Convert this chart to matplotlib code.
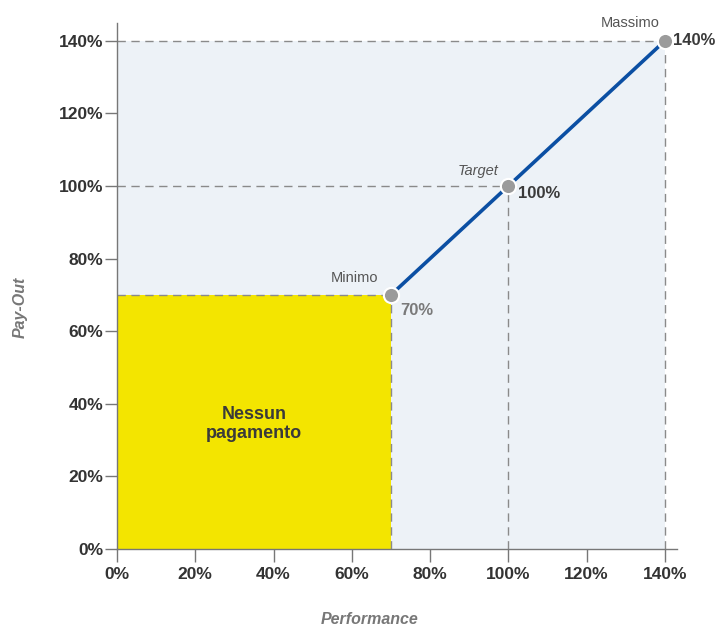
import matplotlib.pyplot as plt
from matplotlib.patches import Rectangle

plt.rcParams['font.family'] = ['Liberation Sans Narrow', 'Liberation Sans', 'DejaVu Sans']

# data
perf = [70, 100, 140]
payout = [70, 100, 140]
point_names = ['Minimo', 'Target', 'Massimo']
point_labels = ['70%', '100%', '140%']
ticks = [0, 20, 40, 60, 80, 100, 120, 140]
tick_labels = ['0%', '20%', '40%', '60%', '80%', '100%', '120%', '140%']

fig = plt.figure(figsize=(7.18, 6.26), dpi=100)
ax = fig.add_axes([117 / 718, 1 - 549 / 626, (677 - 117) / 718, (549 - 23) / 626])
ax.set_xlim(0, 143.1)
ax.set_ylim(0, 144.9)

# background area and "no payment" zone
ax.add_patch(Rectangle((0, 0), 140, 140, facecolor='#edf2f7', edgecolor='none', zorder=0))
ax.add_patch(Rectangle((0, 0), perf[0], payout[0], facecolor='#f3e500', edgecolor='none', zorder=1))
ax.text(perf[0] / 2, 34.5, 'Nessun\npagamento', ha='center', va='center',
        fontsize=13, fontweight='bold', color='#3a3a3a', linespacing=1.15, zorder=3)

# dashed guides
dash = dict(color='#8a8a8a', lw=1.0, ls=(0, (6, 4)), zorder=2)
for x, y in zip(perf, payout):
    ax.plot([0, x], [y, y], **dash)
    ax.plot([x, x], [0, y], **dash)

ax.plot(perf, payout, color='#0b4fa3', lw=2.6, zorder=4, solid_capstyle='butt')
ax.scatter(perf, payout, s=120, color='#9b9b9b', edgecolor='white', linewidth=1.5, zorder=5)

# point annotations
name_style = ['normal', 'italic', 'normal']
name_off = [(-9, 7), (-7, 6), (-25, 8)]
name_ha = ['right', 'right', 'center']
lab_off = [(7, -6), (7, 0), (6, 0)]
lab_va = ['top', 'top', 'center']
lab_col = ['#7a7a7a', '#3a3a3a', '#3a3a3a']
for i in range(len(perf)):
    ax.annotate(point_names[i], (perf[i], payout[i]), xytext=name_off[i], textcoords='offset points',
                ha=name_ha[i], va='bottom', fontsize=10.5, color='#555555',
                style=name_style[i], zorder=6, fontfamily=['Liberation Sans', 'DejaVu Sans'],
                annotation_clip=False)
    ax.annotate(point_labels[i], (perf[i], payout[i]), xytext=lab_off[i], textcoords='offset points',
                ha='left', va=lab_va[i], fontsize=12, fontweight='bold',
                color=lab_col[i], zorder=6, annotation_clip=False)

ax.set_xticks(ticks)
ax.set_xticklabels(tick_labels)
ax.set_yticks(ticks)
ax.set_yticklabels(tick_labels)
ax.tick_params(axis='both', colors='#777777', labelcolor='#333333', labelsize=12.5, width=1.0)
ax.tick_params(axis='y', length=9, pad=1)
ax.tick_params(axis='x', length=9, pad=4)
for lab in ax.get_xticklabels() + ax.get_yticklabels():
    lab.set_fontweight('bold')

for s in ['top', 'right']:
    ax.spines[s].set_visible(False)
for s in ['left', 'bottom']:
    ax.spines[s].set_color('#777777')
    ax.spines[s].set_linewidth(1.0)

fig.text(20 / 718, 1 - 307 / 626, 'Pay-Out', rotation=90, ha='center', va='center',
         fontsize=11.5, fontweight='bold', style='italic', color='#777777')
fig.text(370 / 718, 1 - 619.5 / 626, 'Performance', ha='center', va='center',
         fontsize=11.5, fontweight='bold', style='italic', color='#777777')

fig.savefig('out.png', dpi=100)
